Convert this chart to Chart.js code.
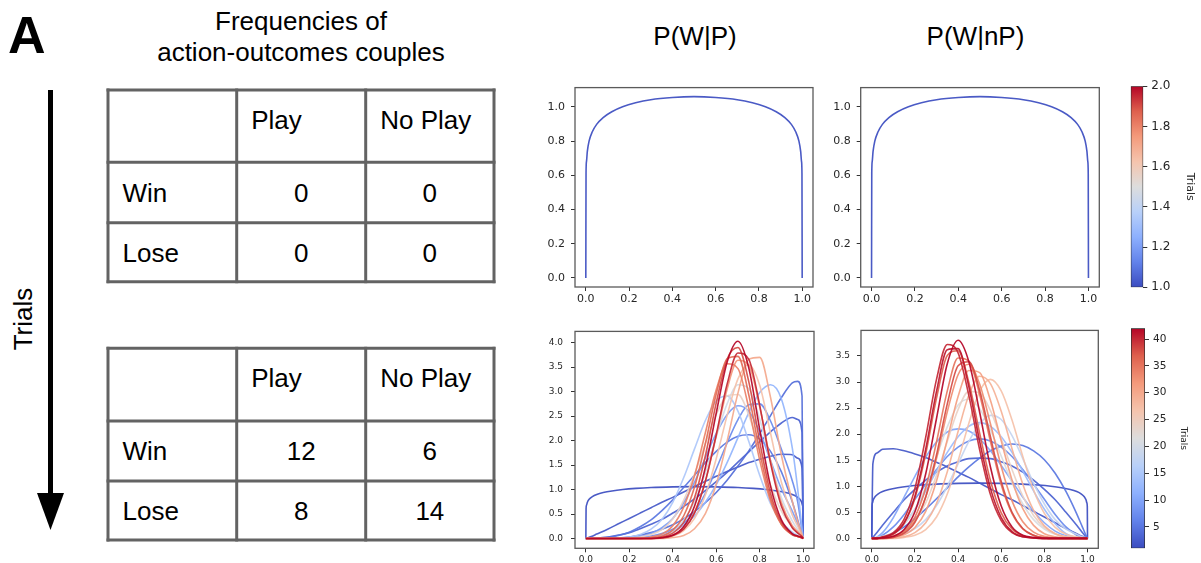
<!DOCTYPE html>
<html>
<head>
<meta charset="utf-8">
<script src="https://cdn.jsdelivr.net/npm/chart.js@4.4.1/dist/chart.umd.min.js"></script>
<style>
  html, body { margin: 0; padding: 0; background: #fff; overflow: hidden; }
  #page { position: relative; width: 1201px; height: 563px; }
  #left { position: absolute; left: 0; top: 0; font-family: "Liberation Sans", Arial, sans-serif; }
  canvas { position: absolute; }
</style>
</head>
<body>
<div id="page">
  <svg id="left" width="530" height="563" xmlns="http://www.w3.org/2000/svg">
    <text x="8" y="53" font-weight="bold" font-size="52">A</text>
    <text x="301" y="29.5" text-anchor="middle" font-size="26">Frequencies of</text>
    <text x="301" y="61" text-anchor="middle" font-size="26">action-outcomes couples</text>
    <line x1="50.5" y1="90" x2="50.5" y2="500" stroke="#000" stroke-width="5"/>
    <polygon points="37,493 64,493 50.5,530" fill="#000"/>
    <text transform="translate(31.5,319) rotate(-90)" text-anchor="middle" font-size="26">Trials</text>
    <g id="tables"></g>
  </svg>
  <svg width="1201" height="60" style="position:absolute;left:0;top:0;font-family:'Liberation Sans',Arial,sans-serif;">
    <text x="695" y="45" text-anchor="middle" font-size="26">P(W|P)</text>
    <text x="975.5" y="45" text-anchor="middle" font-size="26">P(W|nP)</text>
  </svg>
  <canvas id="tl" width="300" height="235" style="left:530px;top:75px;"></canvas>
  <canvas id="tr" width="280" height="235" style="left:830px;top:75px;"></canvas>
  <canvas id="bl" width="300" height="245" style="left:530px;top:318px;"></canvas>
  <canvas id="br" width="280" height="245" style="left:830px;top:318px;"></canvas>
  <canvas id="cbt" width="74" height="230" style="left:1127px;top:75px;"></canvas>
  <canvas id="cbb" width="74" height="245" style="left:1127px;top:318px;"></canvas>
</div>
<script>
// ---------- Frequency tables ----------
const rowLabels = ['Win', 'Lose'];
const colLabels = ['Play', 'No Play'];
const countsStart = [[0, 0], [0, 0]];
const countsEnd = [[12, 6], [8, 14]];

// ---------- Density curves ----------
// x positions of the starting density (dense near the edges, where it rises steeply)
const priorX = [0, 0.001, 0.003, 0.007, 0.015, 0.03, 0.05, 0.08, 0.12, 0.17, 0.23, 0.3, 0.4, 0.5,
                0.6, 0.7, 0.77, 0.83, 0.88, 0.92, 0.95, 0.97, 0.985, 0.993, 0.997, 0.999, 1];
const prior = [0, 0.61, 0.68, 0.74, 0.80, 0.855, 0.898, 0.938, 0.972, 1.001, 1.024, 1.042, 1.055, 1.06,
               1.055, 1.042, 1.024, 1.001, 0.972, 0.938, 0.898, 0.855, 0.80, 0.74, 0.68, 0.61, 0];

// x positions shared by the later densities
const xGrid = [0, 0.005, 0.025, 0.05, 0.1, 0.15, 0.2, 0.25, 0.3, 0.35, 0.4, 0.45, 0.5,
               0.55, 0.6, 0.65, 0.7, 0.75, 0.8, 0.85, 0.9, 0.95, 0.975, 0.995, 1];
const xTicks = [0, 0.2, 0.4, 0.6, 0.8, 1.0];

// P(W|P) over trials
const wpT2  = [0, 0.01, 0.04, 0.09, 0.19, 0.30, 0.41, 0.52, 0.63, 0.74, 0.84, 0.95, 1.06, 1.17, 1.27, 1.37, 1.46, 1.55, 1.62, 1.68, 1.72, 1.71, 1.64, 1.43, 0];
const wpT3  = [0, 0, 0, 0.01, 0.03, 0.07, 0.12, 0.20, 0.29, 0.39, 0.52, 0.65, 0.81, 0.98, 1.16, 1.35, 1.56, 1.77, 1.98, 2.18, 2.36, 2.47, 2.43, 2.16, 0];
const wpT4  = [0, 0, 0, 0, 0, 0.01, 0.03, 0.07, 0.12, 0.19, 0.28, 0.40, 0.55, 0.73, 0.94, 1.19, 1.48, 1.79, 2.14, 2.51, 2.88, 3.18, 3.21, 2.91, 0];
const wpT5  = [0, 0, 0, 0, 0.02, 0.06, 0.13, 0.24, 0.38, 0.57, 0.79, 1.04, 1.29, 1.55, 1.78, 1.97, 2.09, 2.12, 2.03, 1.78, 1.36, 0.75, 0.38, 0.07, 0];
const wpT7  = [0, 0, 0, 0, 0, 0, 0.01, 0.02, 0.05, 0.10, 0.19, 0.31, 0.54, 0.92, 1.42, 1.95, 2.43, 2.73, 2.75, 2.40, 1.82, 1.18, 0.75, 0.15, 0];
const wpT9  = [0, 0, 0, 0, 0, 0, 0.02, 0.04, 0.10, 0.22, 0.41, 0.73, 1.15, 1.65, 2.15, 2.53, 2.71, 2.60, 2.18, 1.59, 1.01, 0.56, 0.30, 0.06, 0];
const wpT12 = [0, 0, 0, 0, 0, 0, 0, 0.01, 0.03, 0.07, 0.15, 0.27, 0.46, 0.74, 1.10, 1.55, 2.06, 2.57, 2.98, 3.14, 2.85, 1.85, 1.01, 0.19, 0];
const wpT15 = [0, 0, 0, 0, 0, 0.01, 0.03, 0.08, 0.19, 0.39, 0.74, 1.24, 1.83, 2.41, 2.81, 2.91, 2.60, 1.98, 1.29, 0.71, 0.34, 0.13, 0.06, 0.01, 0];
const wpT20 = [0, 0, 0, 0, 0, 0, 0, 0, 0.02, 0.05, 0.15, 0.37, 0.76, 1.35, 2.08, 2.75, 3.14, 3.06, 2.44, 1.58, 0.83, 0.36, 0.18, 0.04, 0];
const wpT24 = [0, 0, 0, 0, 0, 0, 0, 0.03, 0.08, 0.18, 0.40, 0.78, 1.31, 1.94, 2.53, 2.91, 2.94, 2.52, 1.81, 1.09, 0.56, 0.24, 0.12, 0.03, 0];
const wpT27 = [0, 0, 0, 0, 0, 0, 0, 0, 0, 0.01, 0.05, 0.16, 0.41, 0.89, 1.63, 2.51, 3.26, 3.55, 3.13, 2.15, 1.15, 0.48, 0.25, 0.06, 0];
const wpT30 = [0, 0, 0, 0, 0, 0, 0, 0, 0, 0, 0.02, 0.06, 0.20, 0.51, 1.11, 1.99, 2.97, 3.66, 3.70, 2.88, 1.70, 0.76, 0.35, 0.08, 0];
const wpT32 = [0, 0, 0, 0, 0, 0, 0, 0, 0, 0.02, 0.06, 0.20, 0.54, 1.17, 2.09, 3.05, 3.64, 3.54, 2.69, 1.59, 0.73, 0.26, 0.14, 0.04, 0];
const wpT34 = [0, 0, 0, 0, 0, 0, 0, 0, 0.03, 0.09, 0.26, 0.64, 1.28, 2.16, 3.04, 3.57, 3.47, 2.66, 1.60, 0.76, 0.29, 0.08, 0.04, 0.01, 0];
const wpT36 = [0, 0, 0, 0, 0, 0, 0, 0, 0.01, 0.05, 0.17, 0.46, 1.05, 1.94, 2.95, 3.67, 3.72, 2.93, 1.77, 0.82, 0.29, 0.08, 0.04, 0.01, 0];
const wpT38 = [0, 0, 0, 0, 0, 0, 0, 0, 0, 0.03, 0.11, 0.33, 0.83, 1.69, 2.77, 3.66, 3.90, 3.20, 1.98, 0.92, 0.33, 0.08, 0.04, 0.01, 0];
const wpT40 = [0, 0, 0, 0, 0, 0, 0, 0, 0, 0.01, 0.06, 0.19, 0.52, 1.17, 2.12, 3.15, 3.79, 3.66, 2.72, 1.54, 0.66, 0.22, 0.11, 0.04, 0];
const wpT42 = [0, 0, 0, 0, 0, 0, 0, 0, 0, 0.02, 0.07, 0.24, 0.66, 1.45, 2.56, 3.60, 4.03, 3.48, 2.23, 1.07, 0.38, 0.10, 0.05, 0.02, 0];

// P(W|nP) over trials
const wnT2  = [0, 1.43, 1.64, 1.71, 1.72, 1.68, 1.62, 1.55, 1.46, 1.37, 1.27, 1.17, 1.06, 0.95, 0.84, 0.74, 0.63, 0.52, 0.41, 0.30, 0.19, 0.09, 0.04, 0.01, 0];
const wnT3  = [0, 0.02, 0.12, 0.25, 0.50, 0.74, 0.94, 1.12, 1.27, 1.39, 1.47, 1.53, 1.54, 1.53, 1.47, 1.39, 1.27, 1.12, 0.94, 0.74, 0.50, 0.25, 0.12, 0.02, 0];
const wnT5  = [0, 0, 0.01, 0.03, 0.10, 0.22, 0.38, 0.56, 0.76, 0.97, 1.18, 1.37, 1.54, 1.68, 1.77, 1.81, 1.78, 1.68, 1.51, 1.25, 0.90, 0.47, 0.23, 0.04, 0];
const wnT7  = [0, 0, 0.01, 0.06, 0.22, 0.46, 0.75, 1.04, 1.32, 1.57, 1.75, 1.87, 1.91, 1.87, 1.75, 1.57, 1.32, 1.04, 0.75, 0.46, 0.22, 0.06, 0.01, 0, 0];
const wnT10 = [0, 0, 0.03, 0.11, 0.40, 0.79, 1.19, 1.56, 1.85, 2.04, 2.10, 2.06, 1.91, 1.68, 1.40, 1.10, 0.79, 0.52, 0.30, 0.14, 0.05, 0.01, 0, 0, 0];
const wnT13 = [0, 0, 0, 0.01, 0.09, 0.28, 0.56, 0.91, 1.29, 1.65, 1.95, 2.15, 2.22, 2.15, 1.95, 1.65, 1.29, 0.91, 0.56, 0.28, 0.09, 0.01, 0, 0, 0];
const wnT18 = [0, 0, 0, 0.01, 0.04, 0.09, 0.19, 0.36, 0.63, 1.00, 1.43, 1.86, 2.20, 2.36, 2.28, 1.97, 1.53, 1.06, 0.66, 0.36, 0.18, 0.08, 0.03, 0.01, 0];
const wnT21 = [0, 0, 0.02, 0.04, 0.11, 0.27, 0.55, 0.99, 1.56, 2.14, 2.56, 2.67, 2.49, 2.08, 1.58, 1.07, 0.66, 0.36, 0.18, 0.08, 0.03, 0.01, 0, 0, 0];
const wnT24 = [0, 0, 0, 0.01, 0.05, 0.14, 0.33, 0.68, 1.21, 1.86, 2.47, 2.82, 2.79, 2.45, 1.91, 1.32, 0.81, 0.44, 0.21, 0.09, 0.03, 0.01, 0, 0, 0];
const wnT27 = [0, 0, 0, 0, 0, 0.02, 0.06, 0.17, 0.41, 0.85, 1.49, 2.21, 2.82, 3.05, 2.83, 2.27, 1.57, 0.93, 0.48, 0.21, 0.08, 0.03, 0.01, 0, 0];
const wnT29 = [0, 0, 0, 0, 0.01, 0.03, 0.11, 0.30, 0.67, 1.28, 2.05, 2.75, 3.11, 2.97, 2.44, 1.72, 1.04, 0.54, 0.24, 0.09, 0.03, 0.01, 0, 0, 0];
const wnT31 = [0, 0, 0, 0, 0.02, 0.07, 0.21, 0.52, 1.10, 1.90, 2.72, 3.22, 3.18, 2.65, 1.87, 1.12, 0.57, 0.25, 0.09, 0.03, 0.01, 0, 0, 0, 0];
const wnT33 = [0, 0, 0, 0.01, 0.03, 0.12, 0.34, 0.79, 1.53, 2.43, 3.14, 3.34, 2.96, 2.20, 1.38, 0.72, 0.32, 0.12, 0.04, 0.01, 0, 0, 0, 0, 0];
const wnT35 = [0, 0, 0, 0.01, 0.04, 0.14, 0.41, 0.97, 1.85, 2.83, 3.46, 3.40, 2.76, 1.86, 1.03, 0.48, 0.18, 0.06, 0.01, 0, 0, 0, 0, 0, 0];
const wnT37 = [0, 0, 0, 0.02, 0.08, 0.29, 0.77, 1.62, 2.69, 3.51, 3.60, 2.99, 2.02, 1.11, 0.49, 0.18, 0.05, 0.01, 0, 0, 0, 0, 0, 0, 0];
const wnT38 = [0, 0, 0, 0, 0.02, 0.10, 0.31, 0.80, 1.60, 2.58, 3.31, 3.39, 2.84, 1.95, 1.09, 0.50, 0.19, 0.06, 0.01, 0, 0, 0, 0, 0, 0];
const wnT40 = [0, 0, 0, 0.03, 0.11, 0.37, 0.96, 1.94, 3.05, 3.72, 3.56, 2.74, 1.70, 0.84, 0.34, 0.11, 0.03, 0.01, 0, 0, 0, 0, 0, 0, 0];
const wnT41 = [0, 0, 0, 0.02, 0.09, 0.30, 0.81, 1.71, 2.82, 3.62, 3.64, 2.91, 1.86, 0.96, 0.40, 0.13, 0.03, 0.01, 0, 0, 0, 0, 0, 0, 0];
const wnT42 = [0, 0, 0, 0.01, 0.04, 0.17, 0.51, 1.24, 2.30, 3.35, 3.80, 3.39, 2.42, 1.37, 0.62, 0.22, 0.06, 0.02, 0, 0, 0, 0, 0, 0, 0];

const wpTrials = [1, 2, 3, 4, 5, 7, 9, 12, 15, 20, 24, 27, 30, 32, 34, 36, 38, 40, 42];
const wpCurves = [prior, wpT2, wpT3, wpT4, wpT5, wpT7, wpT9, wpT12, wpT15, wpT20, wpT24, wpT27, wpT30, wpT32, wpT34, wpT36, wpT38, wpT40, wpT42];
const wnTrials = [1, 2, 3, 5, 7, 10, 13, 18, 21, 24, 27, 29, 31, 33, 35, 37, 38, 40, 41, 42];
const wnCurves = [prior, wnT2, wnT3, wnT5, wnT7, wnT10, wnT13, wnT18, wnT21, wnT24, wnT27, wnT29, wnT31, wnT33, wnT35, wnT37, wnT38, wnT40, wnT41, wnT42];

// colour bar ranges and ticks
const trialRangeStart = [1, 2];
const trialRangeEnd = [1, 42];
const cbTicksStart = [1.0, 1.2, 1.4, 1.6, 1.8, 2.0];
const cbTicksEnd = [5, 10, 15, 20, 25, 30, 35, 40];
const yTicksStart = [0, 0.2, 0.4, 0.6, 0.8, 1.0];
const yTicksWP = [0, 0.5, 1.0, 1.5, 2.0, 2.5, 3.0, 3.5, 4.0];
const yTicksWN = [0, 0.5, 1.0, 1.5, 2.0, 2.5, 3.0, 3.5];

// ---------- coolwarm colour map ----------
const coolwarmStops = [
  [0.0, [59, 76, 192]], [0.125, [98, 130, 234]], [0.25, [141, 176, 254]],
  [0.375, [184, 208, 249]], [0.5, [221, 221, 221]], [0.625, [245, 196, 173]],
  [0.75, [244, 154, 123]], [0.875, [222, 96, 77]], [1.0, [180, 4, 38]]
];
function coolwarm(f, alpha) {
  f = Math.max(0, Math.min(1, f));
  for (let i = 1; i < coolwarmStops.length; i++) {
    const [f1, c1] = coolwarmStops[i];
    const [f0, c0] = coolwarmStops[i - 1];
    if (f <= f1) {
      const t = (f - f0) / (f1 - f0);
      const c = c0.map((v, k) => Math.round(v + (c1[k] - v) * t));
      return `rgba(${c[0]},${c[1]},${c[2]},${alpha === undefined ? 1 : alpha})`;
    }
  }
  return 'rgb(180,4,38)';
}

// ---------- tables ----------
(function drawTables() {
  const NS = 'http://www.w3.org/2000/svg';
  const g = document.getElementById('tables');
  const colX = [108, 236.7, 365.7, 494];
  const layouts = [
    { rows: [90, 162.3, 222.7, 281.7], counts: countsStart },
    { rows: [348.3, 421, 481, 540], counts: countsEnd }
  ];
  function el(name, attrs, text) {
    const e = document.createElementNS(NS, name);
    for (const k in attrs) e.setAttribute(k, attrs[k]);
    if (text !== undefined) e.textContent = text;
    g.appendChild(e);
    return e;
  }
  layouts.forEach(({ rows, counts }) => {
    const stroke = { stroke: '#636363', 'stroke-width': 3, 'stroke-linecap': 'square' };
    rows.forEach(y => el('line', Object.assign({ x1: colX[0], y1: y, x2: colX[3], y2: y }, stroke)));
    colX.forEach(x => el('line', Object.assign({ x1: x, y1: rows[0], x2: x, y2: rows[3] }, stroke)));
    const font = { 'font-size': 26, fill: '#000' };
    colLabels.forEach((lab, c) => el('text', Object.assign({ x: colX[c + 1] + 14.5, y: rows[0] + 39 }, font), lab));
    rowLabels.forEach((lab, r) => {
      const base = (rows[r + 1] + rows[r + 2]) / 2 + 9.3;
      el('text', Object.assign({ x: colX[0] + 14.5, y: base }, font), lab);
      counts[r].forEach((v, c) => {
        el('text', Object.assign({ x: (colX[c + 1] + colX[c + 2]) / 2, y: base, 'text-anchor': 'middle' }, font), String(v));
      });
    });
  });
})();

// ---------- charts ----------
const tickColor = '#262626';
const framePlugin = {
  id: 'frame',
  afterDraw(chart) {
    const { ctx, chartArea: a } = chart;
    ctx.save();
    ctx.strokeStyle = '#5a5a5a';
    ctx.lineWidth = 1.3;
    ctx.strokeRect(a.left, a.top, a.right - a.left, a.bottom - a.top);
    ctx.restore();
  }
};

function densityChart(id, curves, trials, tRange, yMin, yMax, yTicks, box) {
  const span = tRange[1] - tRange[0];
  const datasets = curves.map((ys, i) => {
    const xs = ys === prior ? priorX : xGrid;
    return {
      data: xs.map((x, j) => ({ x: x, y: ys[j] })),
      borderColor: coolwarm((trials[i] - tRange[0]) / span, 0.92),
      borderWidth: 1.6,
      pointRadius: 0,
      fill: false,
      cubicInterpolationMode: 'monotone',
      order: -trials[i]
    };
  });
  return new Chart(document.getElementById(id), {
    type: 'line',
    data: { datasets },
    options: {
      responsive: false,
      animation: false,
      events: [],
      layout: { padding: { left: 0, top: box.padTop, right: box.padRight, bottom: 0 } },
      plugins: { legend: { display: false }, tooltip: { enabled: false } },
      scales: {
        x: {
          type: 'linear', min: -0.05, max: 1.05,
          afterBuildTicks: s => { s.ticks = xTicks.map(v => ({ value: v })); },
          afterFit: s => { s.height = box.xH; },
          ticks: { autoSkip: false, maxRotation: 0, padding: box.xPad, color: tickColor,
                   font: { family: 'DejaVu Sans', size: box.font }, callback: v => Number(v).toFixed(1) },
          grid: { drawOnChartArea: false, tickLength: 4, color: '#333' },
          border: { display: false }
        },
        y: {
          type: 'linear', min: yMin, max: yMax,
          afterBuildTicks: s => { s.ticks = yTicks.map(v => ({ value: v })); },
          afterFit: s => { s.width = box.yW; },
          ticks: { autoSkip: false, padding: box.yPad, color: tickColor,
                   font: { family: 'DejaVu Sans', size: box.font }, callback: v => Number(v).toFixed(1) },
          grid: { drawOnChartArea: false, tickLength: 4, color: '#333' },
          border: { display: false }
        }
      }
    },
    plugins: [framePlugin]
  });
}

function colourBar(id, range, ticks, fmt, box) {
  return new Chart(document.getElementById(id), {
    type: 'bar',
    data: {
      labels: [''],
      datasets: [{
        data: [[range[0], range[1]]],
        barPercentage: 1, categoryPercentage: 1,
        borderWidth: 1, borderColor: '#2a2a2a', borderSkipped: false,
        backgroundColor: c => {
          const a = c.chart.chartArea;
          if (!a) return 'transparent';
          const grad = c.chart.ctx.createLinearGradient(0, a.bottom, 0, a.top);
          coolwarmStops.forEach(([f]) => grad.addColorStop(f, coolwarm(f)));
          return grad;
        }
      }]
    },
    options: {
      responsive: false,
      animation: false,
      events: [],
      layout: { padding: { left: box.padLeft, top: box.padTop, right: 0, bottom: box.padBottom } },
      plugins: { legend: { display: false }, tooltip: { enabled: false } },
      scales: {
        x: { display: false },
        y: {
          position: 'right', min: range[0], max: range[1],
          afterBuildTicks: s => { s.ticks = ticks.map(v => ({ value: v })); },
          afterFit: s => { s.width = box.yW; },
          ticks: { autoSkip: false, padding: 4, color: tickColor,
                   font: { family: 'DejaVu Sans', size: box.font }, callback: fmt },
          grid: { drawOnChartArea: false, tickLength: 4, color: '#333' },
          border: { display: false },
          title: { display: true, text: 'Trials', color: tickColor,
                   font: { family: 'DejaVu Sans', size: box.titleFont }, padding: { top: box.titlePad, bottom: 0 } }
        }
      }
    }
  });
}

densityChart('tl', [prior], [1], trialRangeStart, -0.053, 1.113, yTicksStart,
  { padTop: 7.7, padRight: 17, yW: 45, xH: 23, font: 11, xPad: 2, yPad: 6 });
densityChart('tr', [prior], [1], trialRangeStart, -0.053, 1.113, yTicksStart,
  { padTop: 7.7, padRight: 10.7, yW: 30.7, xH: 23, font: 11, xPad: 2, yPad: 6 });
densityChart('bl', wpCurves, wpTrials, trialRangeEnd, -0.2, 4.23, yTicksWP,
  { padTop: 7, padRight: 16, yW: 45, xH: 14.7, font: 9, xPad: 2, yPad: 8 });
densityChart('br', wnCurves, wnTrials, trialRangeEnd, -0.19, 3.99, yTicksWN,
  { padTop: 7, padRight: 11.7, yW: 31, xH: 14.7, font: 9, xPad: 2, yPad: 7 });

colourBar('cbt', trialRangeStart, cbTicksStart, v => Number(v).toFixed(1),
  { padLeft: 3.7, padTop: 7.7, padBottom: 17.7, yW: 57.7, font: 12, titleFont: 11, titlePad: 4.4 });
colourBar('cbb', trialRangeEnd, cbTicksEnd, v => String(v),
  { padLeft: 4, padTop: 8.7, padBottom: 14.7, yW: 56, font: 10.5, titleFont: 9, titlePad: 12.5 });
</script>
</body>
</html>
